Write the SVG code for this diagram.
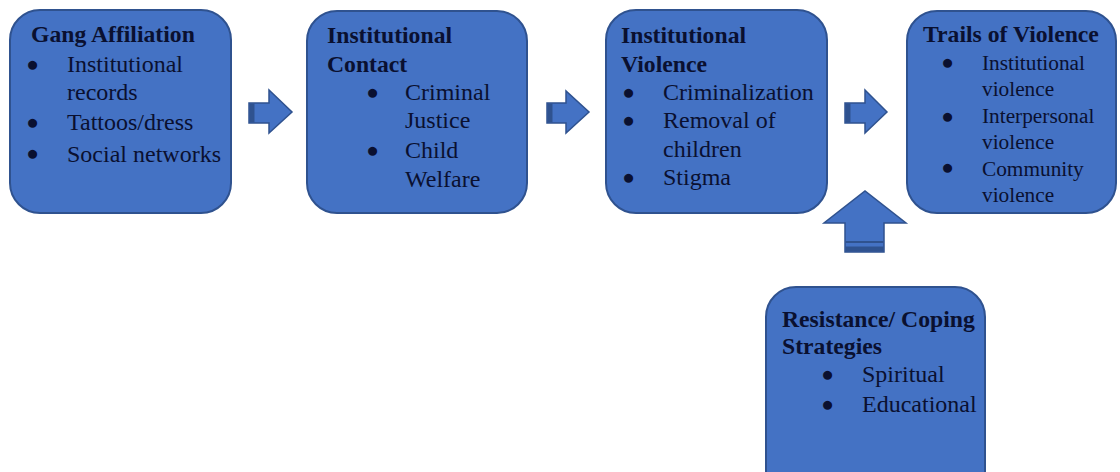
<svg xmlns="http://www.w3.org/2000/svg" width="1120" height="472" viewBox="0 0 1120 472">
<style>
.box{fill:#4472C4;stroke:#2F528F;stroke-width:2}
.arr{fill:#4472C4;stroke:#2F528F;stroke-width:1.5;stroke-linejoin:miter}
.dark{fill:#2F528F}
text{font-family:"Liberation Serif","Times New Roman",serif;fill:#0a1030}
.t{font-weight:bold;font-size:23.7px}
.b{font-size:24px}
.s{font-size:21.3px}
.d{font-size:21px}
</style>
<rect width="1120" height="472" fill="#ffffff"/>
<g id="connectors">
  <g id="arrow1">
    <polygon class="arr" points="249,103 269,103 269,90 292,112 269,133 269,123 249,123"/>
    <rect class="dark" x="249.5" y="103.5" width="5" height="19"/>
  </g>
  <g id="arrow2">
    <polygon class="arr" points="547,103 566,103 566,91 589,112 566,133 566,123 547,123"/>
    <rect class="dark" x="547.5" y="103.5" width="5" height="19"/>
  </g>
  <g id="arrow3">
    <polygon class="arr" points="845,103 865,103 865,90 887,112 865,133 865,123 845,123"/>
    <rect class="dark" x="845.5" y="103.5" width="5" height="19"/>
  </g>
  <g id="arrow4">
    <polygon class="arr" points="845,252 845,223 824,223 865,191 906,223 884,223 884,252"/>
    <rect class="dark" x="845.5" y="241" width="38" height="2"/>
    <rect class="dark" x="845.5" y="246.5" width="38" height="5"/>
  </g>
</g>
<g id="node-gang">
  <rect class="box" x="10" y="10" width="221" height="203" rx="30"/>
  <text class="t" x="31" y="42">Gang Affiliation</text>
  <text class="d" x="26.2" y="71.3">●</text>
  <text class="b" x="67" y="72">Institutional</text>
  <text class="b" x="67" y="100">records</text>
  <text class="d" x="26.2" y="129.3">●</text>
  <text class="b" x="67" y="130">Tattoos/dress</text>
  <text class="d" x="26.2" y="160.3">●</text>
  <text class="b" x="67" y="162">Social networks</text>
</g>
<g id="node-contact">
  <rect class="box" x="307" y="11" width="220" height="202" rx="30"/>
  <text class="t" x="327" y="43">Institutional</text>
  <text class="t" x="327" y="72">Contact</text>
  <text class="d" x="366.2" y="99.3">●</text>
  <text class="b" x="405" y="100">Criminal</text>
  <text class="b" x="405" y="128">Justice</text>
  <text class="d" x="366.2" y="157.3">●</text>
  <text class="b" x="405" y="158">Child</text>
  <text class="b" x="405" y="187">Welfare</text>
</g>
<g id="node-violence">
  <rect class="box" x="606" y="10" width="221" height="203" rx="30"/>
  <text class="t" x="621" y="43">Institutional</text>
  <text class="t" x="621" y="72">Violence</text>
  <text class="d" x="622.2" y="99.3">●</text>
  <text class="b" x="663" y="100">Criminalization</text>
  <text class="d" x="622.2" y="127.3">●</text>
  <text class="b" x="663" y="128">Removal of</text>
  <text class="b" x="663" y="157">children</text>
  <text class="d" x="622.2" y="184.3">●</text>
  <text class="b" x="663" y="185">Stigma</text>
</g>
<g id="node-trails">
  <rect class="box" x="907" y="11" width="209" height="202" rx="30"/>
  <text class="t" x="923" y="42">Trails of Violence</text>
  <text class="d" x="941.2" y="69.3">●</text>
  <text class="s" x="982" y="70">Institutional</text>
  <text class="s" x="982" y="96">violence</text>
  <text class="d" x="941.2" y="123.3">●</text>
  <text class="s" x="982" y="123">Interpersonal</text>
  <text class="s" x="982" y="149">violence</text>
  <text class="d" x="941.2" y="174.3">●</text>
  <text class="s" x="982" y="176">Community</text>
  <text class="s" x="982" y="202">violence</text>
</g>
<g id="node-resistance">
  <rect class="box" x="766" y="287" width="219" height="215" rx="30"/>
  <text class="t" x="782" y="327">Resistance/ Coping</text>
  <text class="t" x="782" y="354">Strategies</text>
  <text class="d" x="821.2" y="381.3">●</text>
  <text class="b" x="862" y="382">Spiritual</text>
  <text class="d" x="821.2" y="411.3">●</text>
  <text class="b" x="862" y="412">Educational</text>
</g>
</svg>
